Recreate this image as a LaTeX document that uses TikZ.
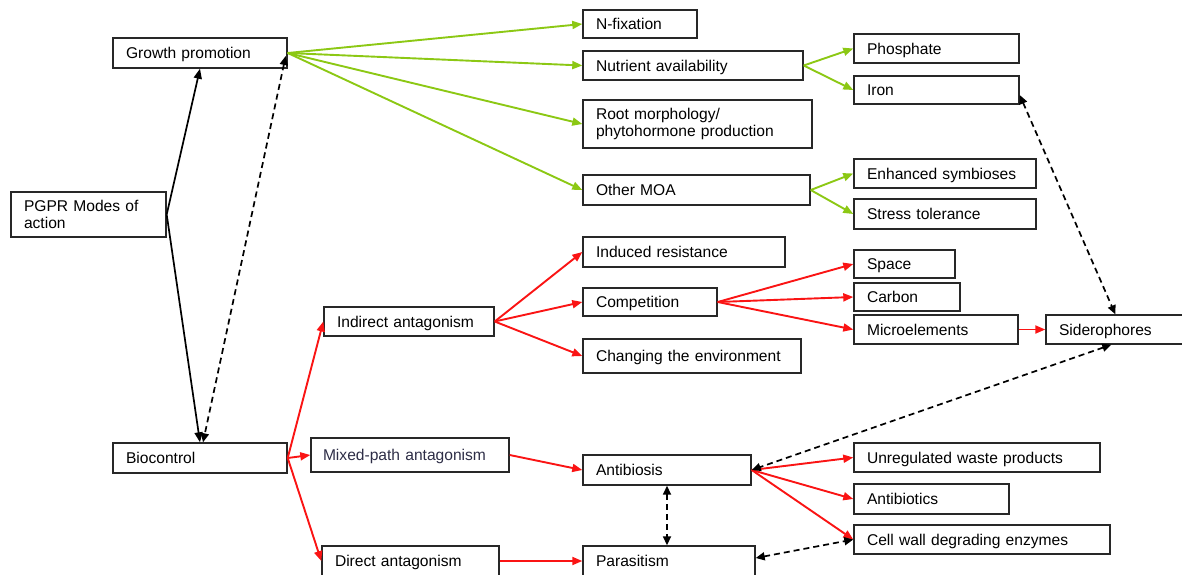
\documentclass[tikz,border=0pt]{standalone}
\usepackage{fontspec}
\setmainfont{Liberation Sans}
\usetikzlibrary{arrows.meta,calc}
\definecolor{lgreen}{RGB}{140,200,20}
\definecolor{lred}{RGB}{250,20,20}
\definecolor{boxline}{RGB}{40,40,40}
\begin{document}
\begin{tikzpicture}[x=1pt,y=-1pt,
  mbox/.style={draw=boxline,line width=1.4pt,rectangle,inner xsep=13pt,inner ysep=2pt,align=left,font=\fontsize{15.6}{17.5}\selectfont},
  box/.style={mbox,text height=12pt,text depth=0.8pt},
  tip/.style={-{Triangle[length=10pt,width=8pt]}},
  gline/.style={lgreen,line width=1.9pt,tip},
  rline/.style={lred,line width=1.9pt,tip},
  kline/.style={black,line width=1.7pt,tip},
  dline/.style={black,line width=1.7pt,dash pattern=on 6pt off 4pt,{Triangle[length=9pt,width=8pt]}-{Triangle[length=9pt,width=8pt]}}]
\useasboundingbox (0,0) rectangle (1182,574);
\node[box,minimum width=174pt,text width=148pt,minimum height=30pt] (gp) at (200,53) {Growth promotion};
\node[mbox,minimum width=155pt,text width=129pt,minimum height=45pt] (pgpr) at (88.5,214.5) {PGPR Modes of\\action};
\node[box,minimum width=174pt,text width=148pt,minimum height=30pt] (bio) at (200,458) {Biocontrol};
\node[box,minimum width=114pt,text width=88pt,minimum height=28pt] (nfix) at (640,24) {N-fixation};
\node[box,minimum width=220pt,text width=194pt,minimum height=29pt] (nut) at (693,65.5) {Nutrient availability};
\node[mbox,minimum width=229pt,text width=203pt,minimum height=48pt] (root) at (697.5,124) {Root morphology/\\phytohormone production};
\node[box,minimum width=227pt,text width=201pt,minimum height=30pt] (moa) at (696.5,190) {Other MOA};
\node[box,minimum width=165pt,text width=139pt,minimum height=29pt] (phos) at (936.5,48.5) {Phosphate};
\node[box,minimum width=165pt,text width=139pt,minimum height=28pt] (iron) at (936.5,90) {Iron};
\node[box,minimum width=182pt,text width=156pt,minimum height=29pt] (enh) at (945,173.5) {Enhanced symbioses};
\node[box,minimum width=182pt,text width=156pt,minimum height=30pt] (stress) at (945,214) {Stress tolerance};
\node[box,minimum width=202pt,text width=176pt,minimum height=30pt] (ind) at (684,252) {Induced resistance};
\node[box,minimum width=134pt,text width=108pt,minimum height=28pt] (comp) at (650,302) {Competition};
\node[box,minimum width=218pt,text width=192pt,minimum height=34pt] (chg) at (692,356) {Changing the environment};
\node[box,minimum width=101pt,text width=75pt,minimum height=28pt] (space) at (904.5,264) {Space};
\node[box,minimum width=106pt,text width=80pt,minimum height=28pt] (carbon) at (907,297) {Carbon};
\node[box,minimum width=164pt,text width=138pt,minimum height=29pt] (micro) at (936,329.5) {Microelements};
\node[box,minimum width=154pt,text width=128pt,minimum height=29pt] (sid) at (1123,329.5) {Siderophores};
\node[box,minimum width=170pt,text width=144pt,minimum height=29pt] (indir) at (409,321.5) {Indirect antagonism};
\node[box,minimum width=198pt,text width=174pt,minimum height=34pt,inner xsep=12pt,text={rgb,255:red,45;green,45;blue,70}] (mixed) at (410,455) {Mixed-path antagonism};
\node[box,minimum width=177pt,text width=151pt,minimum height=30pt] (direct) at (410.5,561) {Direct antagonism};
\node[box,minimum width=168pt,text width=142pt,minimum height=30pt] (antib) at (667,470) {Antibiosis};
\node[box,minimum width=172pt,text width=146pt,minimum height=30pt] (para) at (669,561) {Parasitism};
\node[box,minimum width=246pt,text width=220pt,minimum height=29pt] (unreg) at (977,457.5) {Unregulated waste products};
\node[box,minimum width=155pt,text width=129pt,minimum height=30pt] (abx) at (931.5,499) {Antibiotics};
\node[box,minimum width=256pt,text width=230pt,minimum height=29pt] (cell) at (982,539.5) {Cell wall degrading enzymes};
% black connectors
\draw[kline] (pgpr.east) -- (gp.south);
\draw[kline] (pgpr.east) -- (bio.north);
\draw[dline] ($(gp.east)+(-2,3)$) -- ($(bio.north)+(3,0)$);
% green
\foreach \t in {nfix,nut,root,moa} \draw[gline] (gp.east) -- (\t.west);
\foreach \t in {phos,iron} \draw[gline] (nut.east) -- (\t.west);
\foreach \t in {enh,stress} \draw[gline] (moa.east) -- (\t.west);
% red
\foreach \t in {indir,mixed,direct} \draw[rline] (bio.east) -- (\t.west);
\foreach \t in {ind,comp,chg} \draw[rline] (indir.east) -- (\t.west);
\foreach \t in {space,carbon,micro} \draw[rline] (comp.east) -- (\t.west);
\draw[rline] (micro.east) -- (sid.west);
\draw[rline] (mixed.east) -- (antib.west);
\draw[rline] (direct.east) -- (para.west);
\foreach \t in {unreg,abx,cell} \draw[rline] (antib.east) -- (\t.west);
% dashed links
\draw[dline] ($(iron.east)+(0,5)$) -- ($(sid.north west)+(70,0)$);
\draw[dline] ($(sid.south west)+(66,0)$) -- (antib.east);
\draw[dline] (antib.south) -- (antib.south |- para.north);
\draw[dline] ($(para.east)+(0,-3)$) -- (cell.west);
\end{tikzpicture}
\end{document}
